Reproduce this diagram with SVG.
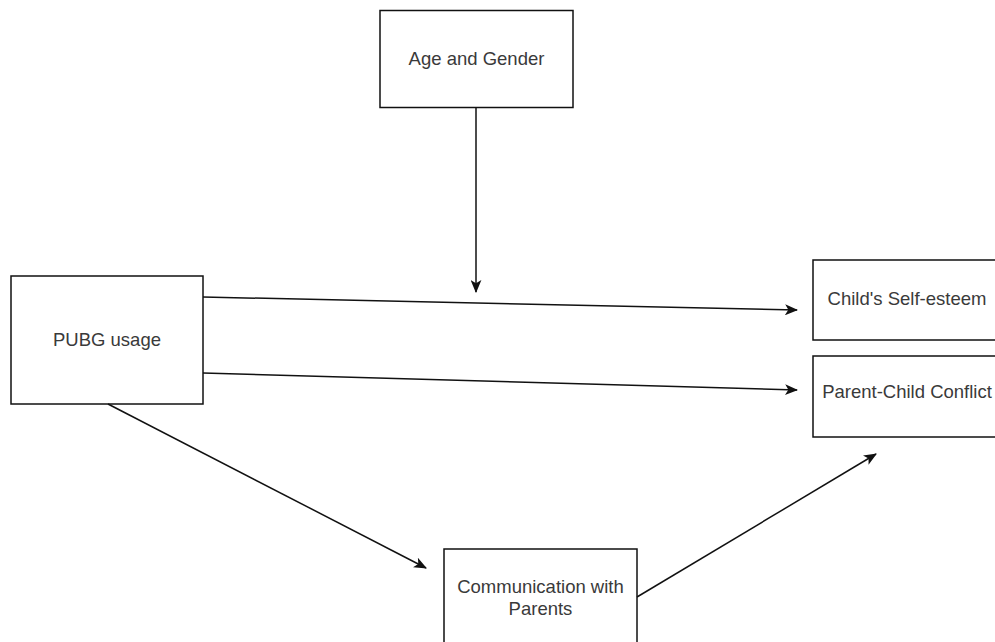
<svg xmlns="http://www.w3.org/2000/svg" width="995" height="642" viewBox="0 0 995 642">
<style>
.box{fill:#fff;stroke:#111;stroke-width:1.5}
.t{font-family:"Liberation Sans",Arial,sans-serif;font-size:18.5px;fill:#3a3a3a;text-anchor:middle}
.c{fill:none;stroke:#111;stroke-width:1.5;marker-end:url(#ah)}
</style>
<defs>
<marker id="ah" viewBox="0 0 12 10" refX="11" refY="5" markerWidth="13" markerHeight="11" markerUnits="userSpaceOnUse" orient="auto">
<path d="M0,0 L12,5 L0,10 L3,5 Z" fill="#111"/>
</marker>
</defs>
<rect width="995" height="642" fill="#fff"/>
<g id="age">
<rect class="box" x="380" y="10.5" width="193" height="97"/>
<text class="t" x="476.5" y="65">Age and Gender</text>
</g>
<g id="pubg">
<rect class="box" x="11" y="276" width="192" height="128"/>
<text class="t" x="107" y="346">PUBG usage</text>
</g>
<g id="selfesteem">
<rect class="box" x="813" y="260" width="193" height="80"/>
<text class="t" x="907" y="305">Child's Self-esteem</text>
</g>
<g id="conflict">
<rect class="box" x="813" y="356" width="193" height="81"/>
<text class="t" x="907" y="398">Parent-Child Conflict</text>
</g>
<g id="communication">
<rect class="box" x="444" y="549" width="193" height="100"/>
<text class="t" x="540.5" y="593">Communication with</text>
<text class="t" x="540.5" y="615">Parents</text>
</g>
<g id="connectors">
<line class="c" x1="476" y1="107.5" x2="476" y2="292"/>
<line class="c" x1="203" y1="297" x2="797" y2="310"/>
<line class="c" x1="203" y1="373" x2="797" y2="390"/>
<line class="c" x1="108" y1="404" x2="426" y2="568"/>
<line class="c" x1="637" y1="597" x2="876" y2="454"/>
</g>
</svg>
